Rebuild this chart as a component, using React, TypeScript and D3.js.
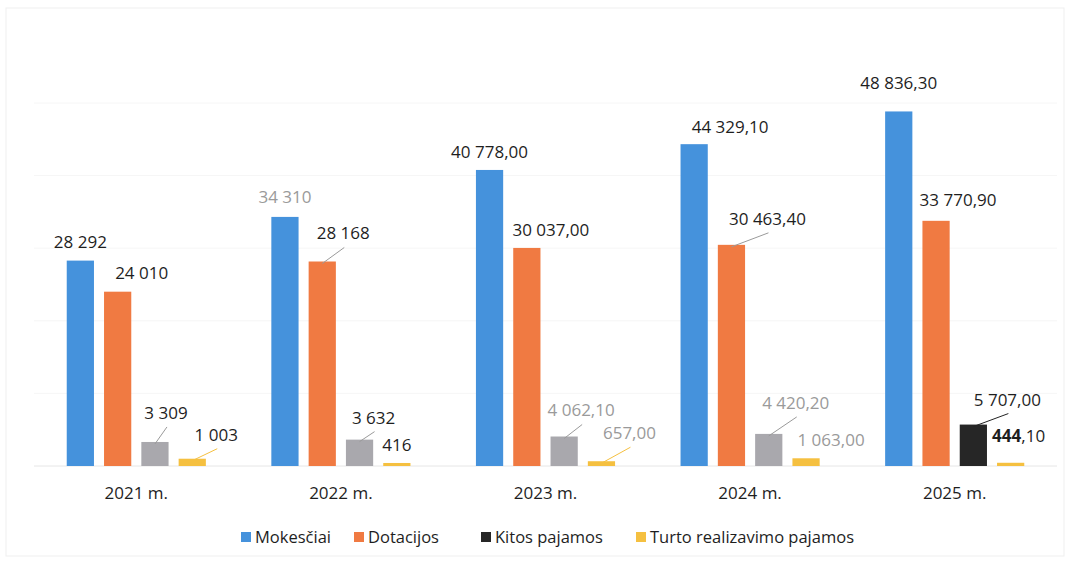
import React from 'react';
import * as d3 from 'd3';

// Data
const years = ['2021 m.', '2022 m.', '2023 m.', '2024 m.', '2025 m.'];
const seriesNames = ['Mokesčiai', 'Dotacijos', 'Kitos pajamos', 'Turto realizavimo pajamos'];
const mokesciai = [28292, 34310, 40778.0, 44329.1, 48836.3];
const dotacijos = [24010, 28168, 30037.0, 30463.4, 33770.9];
const kitos = [3309, 3632, 4062.1, 4420.2, 5707.0];
const turto = [1003, 416, 657.0, 1063.0, 444.1];

const mokesciaiLabels = ['28 292', '34 310', '40 778,00', '44 329,10', '48 836,30'];
const dotacijosLabels = ['24 010', '28 168', '30 037,00', '30 463,40', '33 770,90'];
const kitosLabels = ['3 309', '3 632', '4 062,10', '4 420,20', '5 707,00'];
const turtoLabels = ['1 003', '416', '657,00', '1 063,00', '444,10'];

const yTicks = [0, 10000, 20000, 30000, 40000, 50000];

// styles
const seriesColors = ['#4592dc', '#f07a42', '#a9a8ad', '#f5c040'];
const kitosBarColors = ['#a9a8ad', '#a9a8ad', '#a9a8ad', '#a9a8ad', '#262626'];
const legendColors = ['#4592dc', '#f07a42', '#262626', '#f5c040'];

// label placement (manual, like moved Excel labels): [dx, dy, leader, grey text]
type Lab = [number, number, boolean, boolean];
const labelLayout: Lab[][] = [
  [[0, -19, false, false], [0, -20, false, true], [0, -18, false, false], [36, -17, false, false], [0, -28, false, false]],
  [[24, -19, false, false], [21, -28, true, false], [24, -18, false, false], [36, -26, true, false], [22, -21, false, false]],
  [[11, -29, true, false], [14, -22, true, false], [17, -26, true, true], [27, -31, true, true], [34, -25, true, false]],
  [[24, -24, true, false], [0, -18, false, false], [28, -28, true, true], [25, -18, false, true], [8, -27, false, false]],
];
const leaderColors = ['#9a9a9a', '#9a9a9a', '#9a9a9a', '#f5c040'];

const W = 1074;
const H = 562;
const font = "'Open Sans', 'DejaVu Sans', sans-serif";

const App = () => {
  const values = [mokesciai, dotacijos, kitos, turto];
  const labels = [mokesciaiLabels, dotacijosLabels, kitosLabels, turtoLabels];

  const x0 = d3.scaleBand<string>().domain(years).range([34, 1057]).paddingInner(0.32).paddingOuter(0.16);
  const x1 = d3.scaleBand<string>().domain(seriesNames).range([0, x0.bandwidth()]).paddingInner(0.27);
  const y = d3.scaleLinear().domain([0, 50000]).range([466, 103]);

  const legendX = [241, 354, 481, 636];

  return (
    <svg width={W} height={H} style={{ position: 'absolute', left: 0, top: 0, background: '#fff' }} fontFamily={font}>
      <rect x={6} y={8} width={1058} height={548} fill="none" stroke="#efefef" />
      {yTicks.map((t) => (
        <line key={t} x1={34} x2={1057} y1={y(t)} y2={y(t)} stroke={t === 0 ? '#e6e6e6' : '#f6f6f6'} />
      ))}

      {years.map((yr, i) => (
        <g key={yr} transform={`translate(${x0(yr)},0)`}>
          {seriesNames.map((s, si) => {
            const v = values[si][i];
            const bx = x1(s)!;
            const bw = x1.bandwidth();
            const top = y(v);
            const color = si === 2 ? kitosBarColors[i] : seriesColors[si];
            return (
              <rect key={s} x={bx} y={top} width={bw} height={y(0) - top} fill={color} />
            );
          })}
          {seriesNames.map((s, si) => {
            const v = values[si][i];
            const cx = x1(s)! + x1.bandwidth() / 2;
            const top = y(v);
            const [dx, dy, leader, grey] = labelLayout[si][i];
            const lx = cx + dx;
            const ly = top + dy;
            const txt = labels[si][i];
            const lc = si === 2 && i === 4 ? '#222' : leaderColors[si];
            const isBoldPart = si === 3 && i === 4;
            return (
              <g key={s}>
                {leader && (
                  <line x1={lx + 1} y1={ly + 14} x2={cx} y2={top + 2} stroke={lc} strokeWidth={1} />
                )}
                <text x={lx} y={ly} dy="0.35em" textAnchor="middle" fontSize={17} fill={grey ? '#9a9a9a' : '#1e1e1e'}>
                  {isBoldPart ? (
                    <>
                      <tspan fontWeight="bold">{txt.split(',')[0]}</tspan>
                      <tspan>,{txt.split(',')[1]}</tspan>
                    </>
                  ) : (
                    txt
                  )}
                </text>
              </g>
            );
          })}
          <text x={x0.bandwidth() / 2} y={493} dy="0.35em" textAnchor="middle" fontSize={17} fill="#1e1e1e">
            {yr}
          </text>
        </g>
      ))}

      {seriesNames.map((s, si) => (
        <g key={s} transform={`translate(${legendX[si]},537)`}>
          <rect x={0} y={-5} width={10} height={10} fill={legendColors[si]} />
          <text x={14} y={0} dy="0.35em" fontSize={16.5} fill="#1e1e1e">
            {s}
          </text>
        </g>
      ))}
    </svg>
  );
};

export default App;
